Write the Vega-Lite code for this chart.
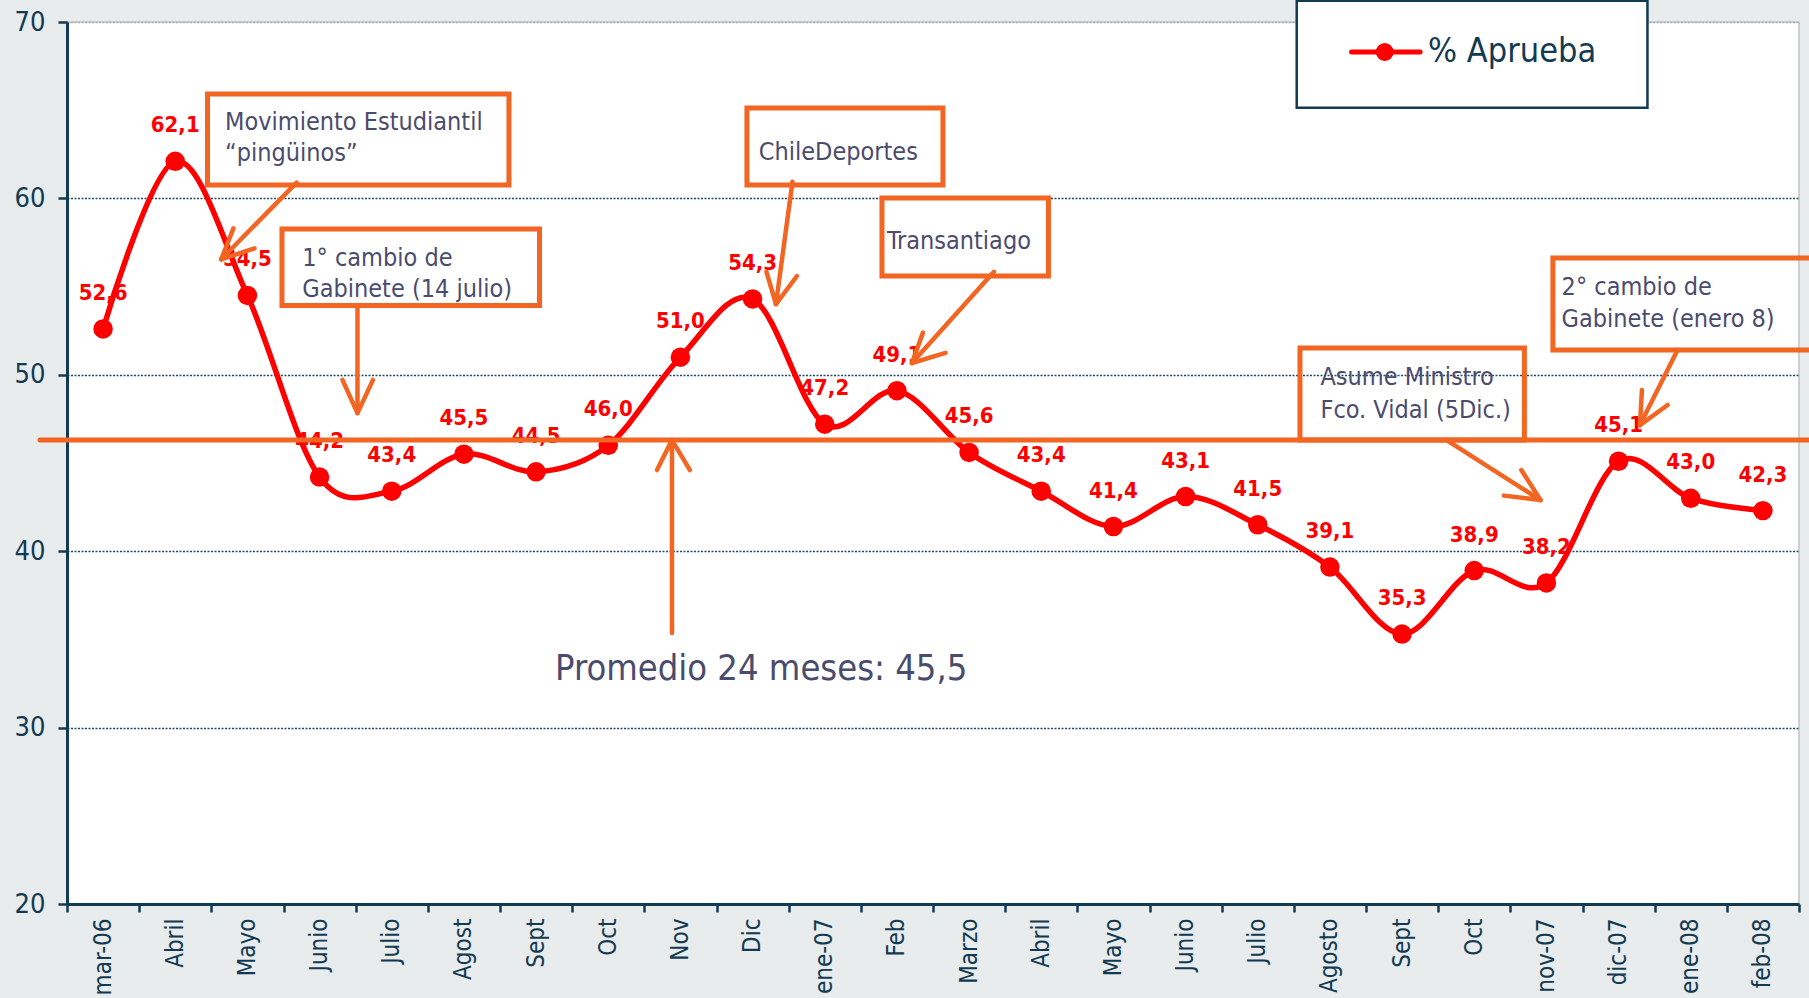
{
  "$schema": "https://vega.github.io/schema/vega-lite/v6.json",
  "width": 1732,
  "height": 882,
  "autosize": {"type": "none"},
  "padding": {"left": 67, "top": 22, "right": 10, "bottom": 94},
  "background": "#E8ECED",
  "config": {
    "locale": {"number": {"decimal": ",", "thousands": ".", "grouping": [3], "currency": ["", " €"]}},
    "view": {"fill": "white", "stroke": "#BEC3C7", "strokeWidth": 1.5},
    "font": "DejaVu Sans Condensed, Liberation Sans, sans-serif"
  },
  "datasets": {
    "aprobacion": [
      {"mes": "mar-06|2006", "aprueba": 52.6},
      {"mes": "Abril|2006", "aprueba": 62.1},
      {"mes": "Mayo|2006", "aprueba": 54.5},
      {"mes": "Junio|2006", "aprueba": 44.2},
      {"mes": "Julio|2006", "aprueba": 43.4},
      {"mes": "Agost|2006", "aprueba": 45.5},
      {"mes": "Sept|2006", "aprueba": 44.5},
      {"mes": "Oct|2006", "aprueba": 46.0},
      {"mes": "Nov|2006", "aprueba": 51.0},
      {"mes": "Dic|2006", "aprueba": 54.3},
      {"mes": "ene-07|2007", "aprueba": 47.2},
      {"mes": "Feb|2007", "aprueba": 49.1},
      {"mes": "Marzo|2007", "aprueba": 45.6},
      {"mes": "Abril|2007", "aprueba": 43.4},
      {"mes": "Mayo|2007", "aprueba": 41.4},
      {"mes": "Junio|2007", "aprueba": 43.1},
      {"mes": "Julio|2007", "aprueba": 41.5},
      {"mes": "Agosto|2007", "aprueba": 39.1},
      {"mes": "Sept|2007", "aprueba": 35.3},
      {"mes": "Oct|2007", "aprueba": 38.9},
      {"mes": "nov-07|2007", "aprueba": 38.2},
      {"mes": "dic-07|2007", "aprueba": 45.1},
      {"mes": "ene-08|2008", "aprueba": 43.0},
      {"mes": "feb-08|2008", "aprueba": 42.3}
    ],
    "cajas": [
      {"x": 1.947, "x2": 6.124, "y": 65.92, "y2": 60.76},
      {"x": 2.979, "x2": 6.548, "y": 58.27, "y2": 53.93},
      {"x": 9.422, "x2": 12.138, "y": 65.12, "y2": 60.76},
      {"x": 11.293, "x2": 13.6, "y": 60.02, "y2": 55.6},
      {"x": 17.085, "x2": 20.195, "y": 51.52, "y2": 46.3},
      {"x": 20.59, "x2": 24.6, "y": 56.62, "y2": 51.41}
    ],
    "flechas": [
      {"x": 3.181, "y": 60.89, "x2": 2.137, "y2": 56.55},
      {"x": 2.137, "y": 56.55, "x2": 2.306, "y2": 58.3},
      {"x": 2.137, "y": 56.55, "x2": 2.598, "y2": 57.17},
      {"x": 4.025, "y": 53.96, "x2": 4.025, "y2": 47.83},
      {"x": 4.025, "y": 47.83, "x2": 3.817, "y2": 49.71},
      {"x": 4.025, "y": 47.83, "x2": 4.24, "y2": 49.71},
      {"x": 10.053, "y": 60.95, "x2": 9.824, "y2": 54.01},
      {"x": 9.824, "y": 54.01, "x2": 9.692, "y2": 55.84},
      {"x": 9.824, "y": 54.01, "x2": 10.115, "y2": 55.6},
      {"x": 12.845, "y": 55.84, "x2": 11.708, "y2": 50.67},
      {"x": 11.708, "y": 50.67, "x2": 11.861, "y2": 52.39},
      {"x": 11.708, "y": 50.67, "x2": 12.174, "y2": 51.24},
      {"x": 19.149, "y": 46.21, "x2": 20.418, "y2": 42.9},
      {"x": 20.418, "y": 42.9, "x2": 20.153, "y2": 44.6},
      {"x": 20.418, "y": 42.9, "x2": 19.911, "y2": 43.15},
      {"x": 22.317, "y": 51.41, "x2": 21.796, "y2": 47.15},
      {"x": 21.796, "y": 47.15, "x2": 21.824, "y2": 49.14},
      {"x": 21.796, "y": 47.15, "x2": 22.18, "y2": 48.29},
      {"x": 8.383, "y": 35.36, "x2": 8.383, "y2": 46.3},
      {"x": 8.383, "y": 46.3, "x2": 8.175, "y2": 44.6},
      {"x": 8.383, "y": 46.3, "x2": 8.632, "y2": 44.6}
    ],
    "textos": [
      {"x": 2.19, "y": 64.35, "texto": "Movimiento Estudiantil"},
      {"x": 2.19, "y": 62.56, "texto": "“pingüinos”"},
      {"x": 3.26, "y": 56.6, "texto": "1° cambio de"},
      {"x": 3.26, "y": 54.85, "texto": "Gabinete (14 julio)"},
      {"x": 9.586, "y": 62.65, "texto": "ChileDeportes"},
      {"x": 11.362, "y": 57.6, "texto": "Transantiago"},
      {"x": 17.369, "y": 49.89, "texto": "Asume Ministro"},
      {"x": 17.369, "y": 48.0, "texto": "Fco. Vidal (5Dic.)"},
      {"x": 20.71, "y": 54.98, "texto": "2° cambio de"},
      {"x": 20.71, "y": 53.16, "texto": "Gabinete (enero 8)"}
    ],
    "promedio": [
      {"x": -0.374, "x2": 24.2, "y": 46.3, "xt": 6.762, "yt": 33.32, "texto": "Promedio 24 meses: 45,5"}
    ],
    "leyenda": [
      {"serie": "% Aprueba", "bx": 17.04, "bx2": 21.9, "by": 71.2, "by2": 65.14, "lx": 17.8, "lx2": 18.75, "px": 18.26, "tx": 18.86, "y": 68.3}
    ]
  },
  "layer": [
    {
      "data": {"name": "aprobacion"},
      "encoding": {
        "x": {
          "field": "mes", "type": "ordinal", "sort": null,
          "scale": {"type": "band", "paddingInner": 0, "paddingOuter": 0},
          "axis": {
            "title": null,
            "labelExpr": "split(datum.label, '|')[0]",
            "labelAngle": -90,
            "tickBand": "extent",
            "tickSize": 8, "tickWidth": 2.5, "tickColor": "#123A52",
            "domainColor": "#123A52", "domainWidth": 3,
            "labelFontSize": 24, "labelColor": "#123A52", "labelPadding": 6,
            "grid": false
          }
        },
        "y": {
          "field": "aprueba", "type": "quantitative",
          "scale": {"domain": [20, 70], "nice": false, "zero": false},
          "axis": {
            "title": null,
            "values": [20, 30, 40, 50, 60, 70],
            "grid": true,
            "gridColor": {"condition": {"test": "datum.value === 70", "value": "#A9AFB3"}, "value": "#1D4A63"},
            "gridDash": [2, 1.5], "gridWidth": 1.5,
            "domainColor": "#123A52", "domainWidth": 3,
            "tickColor": "#123A52", "tickSize": 9, "tickWidth": 2.5,
            "labelFontSize": 27, "labelColor": "#123A52", "labelPadding": 13
          }
        }
      },
      "layer": [
        {
          "mark": {"type": "text", "fontSize": 22, "fontWeight": "bold", "color": "#FF0000", "align": "center", "baseline": "middle", "dy": -36},
          "encoding": {"text": {"field": "aprueba", "type": "quantitative", "format": ".1f"}}
        },
        {
          "mark": {"type": "line", "color": "#FF0000", "strokeWidth": 5.5, "interpolate": "cardinal"}
        },
        {
          "mark": {"type": "point", "shape": "circle", "filled": true, "color": "#FF0000", "size": 380, "opacity": 1}
        }
      ]
    },
    {
      "layer": [
        {
          "data": {"name": "cajas"},
          "mark": {"type": "rect", "fill": null, "fillOpacity": 0, "stroke": "#F26522", "strokeWidth": 5},
          "encoding": {
            "x": {"field": "x", "type": "quantitative", "scale": {"domain": [0, 24], "nice": false, "zero": false}, "axis": null},
            "x2": {"field": "x2"},
            "y": {"field": "y", "type": "quantitative", "scale": {"domain": [20, 70], "nice": false, "zero": false}, "axis": null},
            "y2": {"field": "y2"}
          }
        },
        {
          "data": {"name": "flechas"},
          "mark": {"type": "rule", "stroke": "#F26522", "strokeWidth": 4.5, "strokeCap": "round"},
          "encoding": {
            "x": {"field": "x", "type": "quantitative", "scale": {"domain": [0, 24], "nice": false, "zero": false}, "axis": null},
            "x2": {"field": "x2"},
            "y": {"field": "y", "type": "quantitative", "scale": {"domain": [20, 70], "nice": false, "zero": false}, "axis": null},
            "y2": {"field": "y2"}
          }
        },
        {
          "data": {"name": "textos"},
          "mark": {"type": "text", "fontSize": 25, "color": "#4B4B6E", "align": "left", "baseline": "middle"},
          "encoding": {
            "x": {"field": "x", "type": "quantitative", "scale": {"domain": [0, 24], "nice": false, "zero": false}, "axis": null},
            "y": {"field": "y", "type": "quantitative", "scale": {"domain": [20, 70], "nice": false, "zero": false}, "axis": null},
            "text": {"field": "texto"}
          }
        },
        {
          "data": {"name": "promedio"},
          "mark": {"type": "text", "fontSize": 36, "color": "#4B4B6E", "align": "left", "baseline": "middle"},
          "encoding": {
            "x": {"field": "xt", "type": "quantitative", "scale": {"domain": [0, 24], "nice": false, "zero": false}, "axis": null},
            "y": {"field": "yt", "type": "quantitative", "scale": {"domain": [20, 70], "nice": false, "zero": false}, "axis": null},
            "text": {"field": "texto"}
          }
        },
        {
          "data": {"name": "promedio"},
          "mark": {"type": "rule", "stroke": "#F26522", "strokeWidth": 5, "strokeCap": "round"},
          "encoding": {
            "x": {"field": "x", "type": "quantitative", "scale": {"domain": [0, 24], "nice": false, "zero": false}, "axis": null},
            "x2": {"field": "x2"},
            "y": {"field": "y", "type": "quantitative", "scale": {"domain": [20, 70], "nice": false, "zero": false}, "axis": null}
          }
        },
        {
          "data": {"name": "leyenda"},
          "mark": {"type": "rect", "fill": "white", "stroke": "#123A52", "strokeWidth": 2.5},
          "encoding": {
            "x": {"field": "bx", "type": "quantitative", "scale": {"domain": [0, 24], "nice": false, "zero": false}, "axis": null},
            "x2": {"field": "bx2"},
            "y": {"field": "by", "type": "quantitative", "scale": {"domain": [20, 70], "nice": false, "zero": false}, "axis": null},
            "y2": {"field": "by2"}
          }
        },
        {
          "data": {"name": "leyenda"},
          "mark": {"type": "rule", "stroke": "#FF0000", "strokeWidth": 5, "strokeCap": "round"},
          "encoding": {
            "x": {"field": "lx", "type": "quantitative", "scale": {"domain": [0, 24], "nice": false, "zero": false}, "axis": null},
            "x2": {"field": "lx2"},
            "y": {"field": "y", "type": "quantitative", "scale": {"domain": [20, 70], "nice": false, "zero": false}, "axis": null}
          }
        },
        {
          "data": {"name": "leyenda"},
          "mark": {"type": "point", "shape": "circle", "filled": true, "color": "#FF0000", "size": 320, "opacity": 1},
          "encoding": {
            "x": {"field": "px", "type": "quantitative", "scale": {"domain": [0, 24], "nice": false, "zero": false}, "axis": null},
            "y": {"field": "y", "type": "quantitative", "scale": {"domain": [20, 70], "nice": false, "zero": false}, "axis": null}
          }
        },
        {
          "data": {"name": "leyenda"},
          "mark": {"type": "text", "fontSize": 34, "color": "#123A52", "align": "left", "baseline": "middle"},
          "encoding": {
            "x": {"field": "tx", "type": "quantitative", "scale": {"domain": [0, 24], "nice": false, "zero": false}, "axis": null},
            "y": {"field": "y", "type": "quantitative", "scale": {"domain": [20, 70], "nice": false, "zero": false}, "axis": null},
            "text": {"field": "serie"}
          }
        }
      ]
    }
  ],
  "resolve": {"scale": {"x": "independent", "y": "independent"}}
}
